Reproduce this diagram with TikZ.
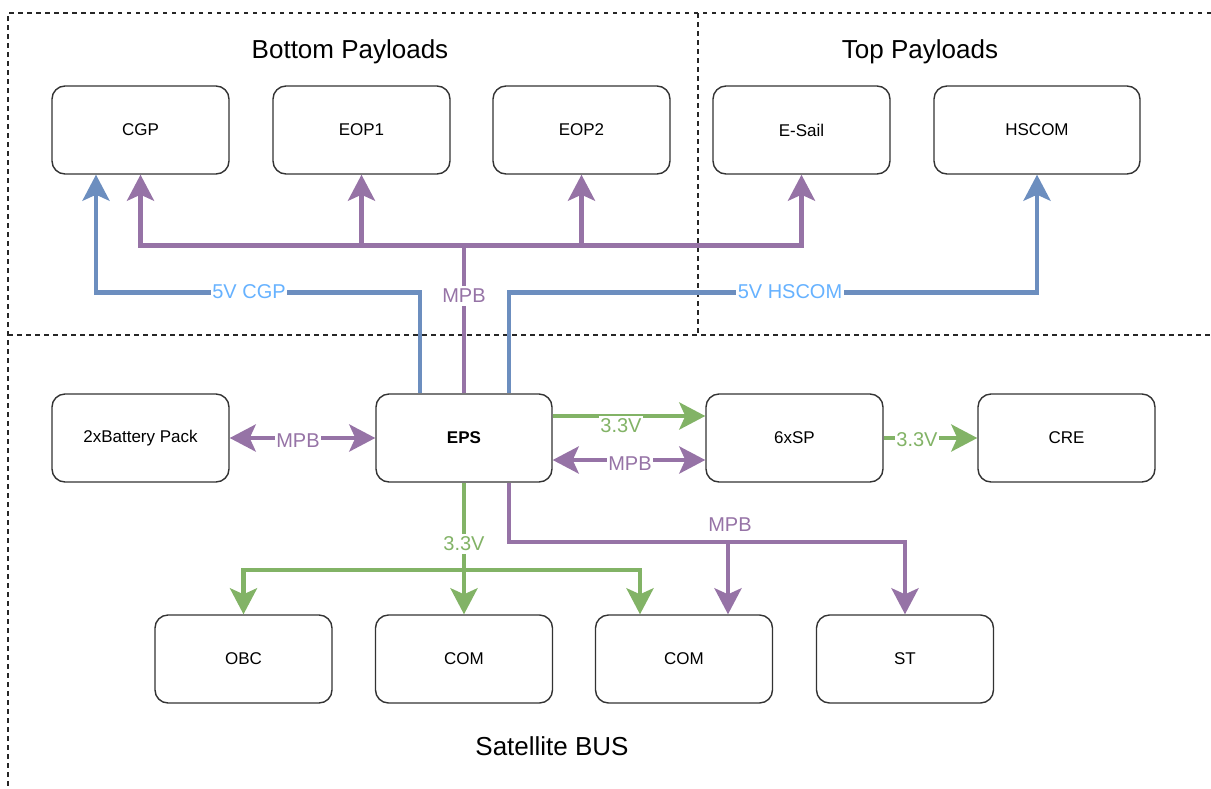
\documentclass[tikz,border=0pt]{standalone}
\usepackage{fontspec}
\setmainfont{Liberation Sans}
\usetikzlibrary{arrows.meta}
\definecolor{pwrblue}{HTML}{6C8EBF}
\definecolor{lblblue}{HTML}{66B2FF}
\definecolor{buspurple}{HTML}{9673A6}
\definecolor{pwrgreen}{HTML}{82B366}
\definecolor{boxline}{HTML}{333333}
\tikzset{
  unit/.style={draw=boxline, line width=1.4pt, rounded corners=13pt,
    minimum width=177pt, minimum height=88pt, inner sep=0pt,
    font=\fontsize{17}{20}\selectfont},
  grouptitle/.style={font=\fontsize{26}{30}\selectfont, inner sep=0pt},
  frame/.style={draw=black!85, line width=1.1pt, dash pattern=on 4.5pt off 4.5pt},
  wire/.style={line width=4.4pt},
  tip/.style={-{Stealth[length=26pt,width=27pt,inset=6pt]}},
  bitip/.style={{Stealth[length=26pt,width=27pt,inset=6pt]}-{Stealth[length=26pt,width=27pt,inset=6pt]}},
  vblue/.style={wire, tip, draw=pwrblue},
  vgreen/.style={wire, tip, draw=pwrgreen},
  mpb/.style={wire, tip, draw=buspurple},
  wirelabel/.style={fill=white, inner xsep=1.5pt, inner ysep=3pt,
    font=\fontsize{20}{22}\selectfont},
}
\begin{document}
\begin{tikzpicture}[x=1pt, y=-1pt]
\useasboundingbox (0,0) rectangle (1211,788);

% group frames
\draw[frame] (1211,13) -- (8,13) -- (8,788);
\draw[frame] (8,335) -- (1211,335);
\draw[frame] (698,13) -- (698,335);

% group titles
\node[grouptitle] (tBottom) at (350,52) {Bottom Payloads};
\node[grouptitle] (tTop) at (920,52) {Top Payloads};
\node[grouptitle] (tBus) at (552,746) {Satellite BUS};

% payload units
\node[unit] (CGP)   at (140.5,130) {CGP};
\node[unit] (EOP1)  at (361.5,130) {EOP1};
\node[unit] (EOP2)  at (581.5,130) {EOP2};
\node[unit] (ESail) at (801.5,130) {E-Sail};
\node[unit, minimum width=206pt] (HSCOM) at (1037,130) {HSCOM};

% bus units
\node[unit] (BAT) at (140.5,438) {2xBattery Pack};
\node[unit, minimum width=176pt, font=\fontsize{17}{20}\selectfont\bfseries] (EPS) at (464,438) {EPS};
\node[unit] (SP)  at (794.5,438) {6xSP};
\node[unit] (CRE) at (1066.5,438) {CRE};
\node[unit] (OBC)  at (243.5,659) {OBC};
\node[unit] (COM1) at (464,659) {COM};
\node[unit] (COM2) at (684,659) {COM};
\node[unit] (ST)   at (905,659) {ST};

% 5V supply lines to the payloads
\draw[vblue] ([xshift=-44pt]EPS.north) -- ++(0,-101) -| ([xshift=-44.5pt]CGP.south);
\draw[vblue] ([xshift=45pt]EPS.north) -- ++(0,-101) -| (HSCOM.south);

% main power bus to the payloads
\draw[mpb] (EPS.north) -- ++(0,-148) -| (CGP.south);
\draw[mpb] (EPS.north) -- ++(0,-148) -| (EOP1.south);
\draw[mpb] (EPS.north) -- ++(0,-148) -| (EOP2.south);
\draw[mpb] (EPS.north) -- ++(0,-148) -| (ESail.south);

% battery, solar panels and CRE
\draw[wire, bitip, draw=buspurple] (BAT.east) -- (EPS.west);
\draw[vgreen] ([yshift=22pt]EPS.east) -- ([yshift=22pt]SP.west);
\draw[wire, bitip, draw=buspurple] ([yshift=-22pt]EPS.east) -- ([yshift=-22pt]SP.west);
\draw[vgreen] (SP.east) -- (CRE.west);

% 3.3V rail to the lower units
\draw[vgreen] (EPS.south) -- ++(0,87) -| (OBC.north);
\draw[vgreen] (EPS.south) -- (COM1.north);
\draw[vgreen] (EPS.south) -- ++(0,87) -| ([xshift=-44pt]COM2.north);

% main power bus to the lower units
\draw[mpb] ([xshift=45pt]EPS.south) -- ++(0,59) -| ([xshift=44pt]COM2.north);
\draw[mpb] ([xshift=45pt]EPS.south) -- ++(0,59) -| (ST.north);

% wire labels
\node[wirelabel, text=lblblue] (l5cgp) at (249,292) {5V CGP};
\node[wirelabel, text=lblblue] (l5hs) at (790,292) {5V HSCOM};
\node[wirelabel, text=buspurple] (lmpbTop) at (464,296) {MPB};
\node[wirelabel, text=buspurple] (lmpbBat) at (298,441) {MPB};
\node[wirelabel, text=pwrgreen] (l33sp) at (621,426) {3.3V};
\node[wirelabel, text=buspurple] (lmpbSp) at (630,464) {MPB};
\node[wirelabel, text=pwrgreen] (l33cre) at (917,440) {3.3V};
\node[wirelabel, text=pwrgreen] (l33low) at (464,544) {3.3V};
\node[wirelabel, text=buspurple, fill=none] (lmpbLow) at (730,525) {MPB};
\end{tikzpicture}
\end{document}
